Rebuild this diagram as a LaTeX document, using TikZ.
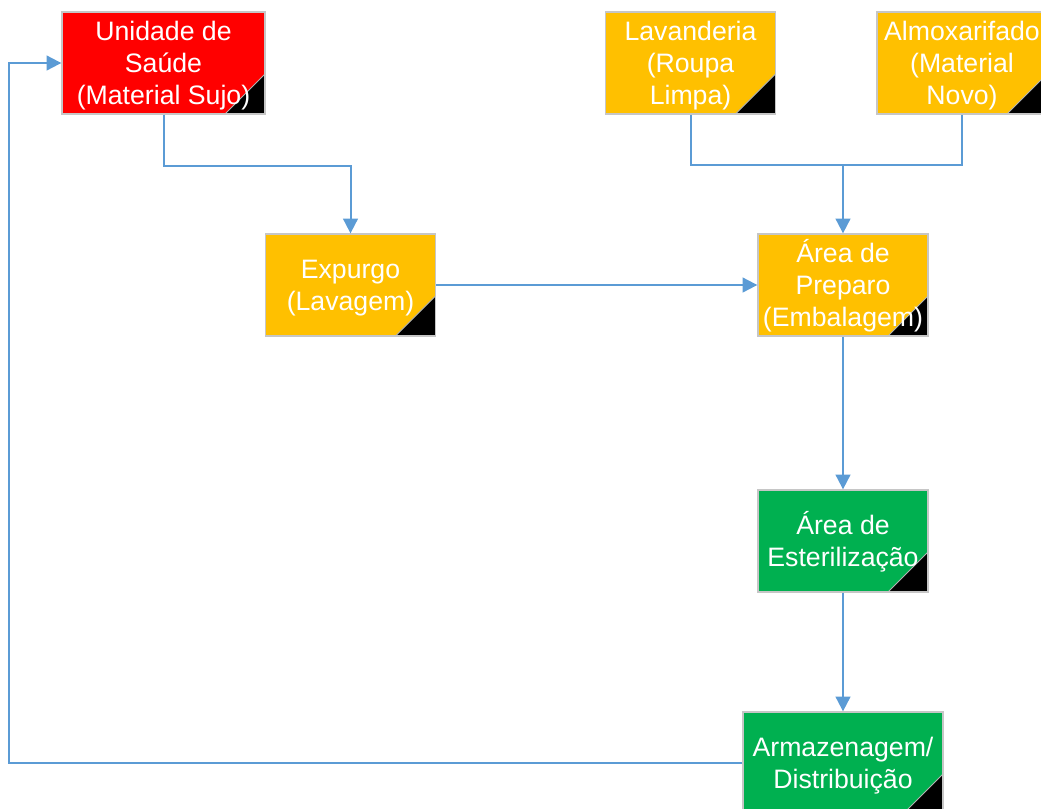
\documentclass[tikz,border=0pt]{standalone}
\usepackage{fontspec}
\setmainfont{Liberation Sans}
\usetikzlibrary{arrows.meta}
\definecolor{flowblue}{HTML}{5B9BD5}
\definecolor{dirtyred}{HTML}{FF0000}
\definecolor{prepamber}{HTML}{FFC000}
\definecolor{sterilegreen}{HTML}{00B050}
\newcommand\stagelines[1]{\rule{0pt}{18pt}#1\rule[-4.3pt]{0pt}{4.3pt}}
\tikzset{
  stage/.style={draw=gray!45,line width=1pt,text=white,align=center,inner sep=0pt,
    minimum width=127.5pt,minimum height=76.5pt,
    font=\fontsize{20}{24}\selectfont,
    path picture={\fill[black] (path picture bounding box.south east) -- ++(-30pt,0)
      -- ++(30pt,30pt) -- cycle;
      \draw[gray!60,line width=0.6pt] (path picture bounding box.south east) ++(-30pt,0)
      -- ++(30pt,30pt);}},
  flow/.style={flowblue,line width=1.5pt,-{Triangle[length=11pt,width=11pt]}},
  link/.style={flowblue,line width=1.5pt}
}
\begin{document}
\begin{tikzpicture}[x=0.75pt,y=-0.75pt]
\useasboundingbox (0,0) rectangle (1041,808);
\node[stage,fill=dirtyred,minimum width=152.25pt](unid) at (163.5,63){\stagelines{Unidade de\\Saúde\\(Material Sujo)}};
\node[stage,fill=prepamber](lav) at (690.5,63){\stagelines{Lavanderia\\(Roupa\\Limpa)}};
\node[stage,fill=prepamber](alm) at (962,63){\stagelines{Almoxarifado\\(Material\\Novo)}};
\node[stage,fill=prepamber](exp) at (350.5,285){\stagelines{Expurgo\\(Lavagem)}};
\node[stage,fill=prepamber](prep) at (843,285){\stagelines{Área de\\Preparo\\(Embalagem)}};
\node[stage,fill=sterilegreen](est) at (843,541){\stagelines{Área de\\Esterilização}};
\node[stage,fill=sterilegreen,minimum width=150pt](arm) at (843,763){\stagelines{Armazenagem/\\Distribuição}};
\coordinate (join) at (843,165);
\draw[flow](unid.south)--++(0,51)-|(exp.north);
\draw[link](lav.south)|-(join);
\draw[link](alm.south)|-(join);
\draw[flow](join)--(prep.north);
\draw[flow](exp.east)--(prep.west);
\draw[flow](prep.south)--(est.north);
\draw[flow](est.south)--(arm.north);
\draw[flow](arm.west)--++(-733,0)|-(unid.west);
\end{tikzpicture}
\end{document}
